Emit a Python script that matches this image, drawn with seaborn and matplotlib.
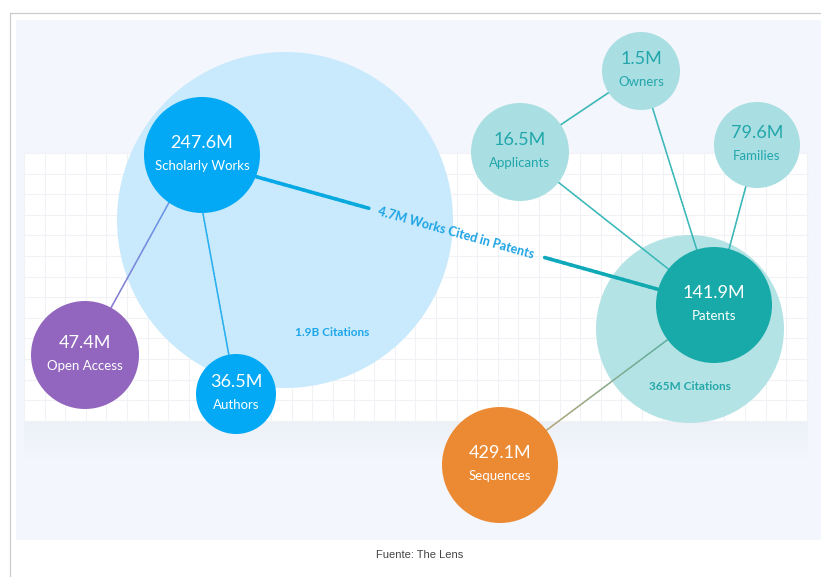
import numpy as np
import pandas as pd
import seaborn as sns
import matplotlib.pyplot as plt
from matplotlib.patches import Rectangle
from matplotlib.collections import LineCollection
from matplotlib.colors import to_rgb

# ---- data ----
node_names = ["Scholarly Works", "Authors", "Open Access", "Patents",
              "Applicants", "Owners", "Families", "Sequences"]
node_values = ["247.6M", "36.5M", "47.4M", "141.9M", "16.5M", "1.5M", "79.6M", "429.1M"]
halo_owner = ["Scholarly Works", "Patents"]
halo_labels = ["1.9B Citations", "365M Citations"]
edges = [("Scholarly Works", "Authors"), ("Scholarly Works", "Open Access"),
         ("Scholarly Works", "Patents"), ("Applicants", "Owners"),
         ("Applicants", "Patents"), ("Owners", "Patents"),
         ("Families", "Patents"), ("Patents", "Sequences")]
link_label = "4.7M Works Cited in Patents"
source_note = "Fuente: The Lens"

# ---- layout (pixel space of the 821x577 canvas) ----
node_x = [202, 236, 85, 714, 520, 641, 757, 500]
node_y = [155, 394, 355, 305, 152, 71, 145, 465]
node_r = [58, 40, 54, 58, 49, 39, 43, 58]
halo_x = [285, 690]
halo_y = [220, 329]
halo_r = [168, 94]
halo_text_xy = [(332, 333), (690, 386)]
# links leave Scholarly Works slightly left of its centre
anchor_shift = {"Scholarly Works": (-9, 4)}

node_colors = {"Scholarly Works": "#03a9f4", "Authors": "#03a9f4", "Open Access": "#9266be",
               "Patents": "#17aaa8", "Applicants": "#a9dfe2", "Owners": "#a9dfe2",
               "Families": "#a9dfe2", "Sequences": "#ec8a34"}
text_colors = {"Applicants": "#22a6ab", "Owners": "#22a6ab", "Families": "#22a6ab"}
halo_colors = {"Scholarly Works": "#c9eafc", "Patents": "#b4e3e5"}
halo_text_colors = ["#1ea6ea", "#25a8aa"]
edge_style = {
    ("Scholarly Works", "Authors"): ("#2aaff0", "#2aaff0", 1.1),
    ("Scholarly Works", "Open Access"): ("#5aa6f0", "#9670c8", 1.1),
    ("Scholarly Works", "Patents"): ("#03a9f4", "#13a9a5", 2.6),
    ("Applicants", "Owners"): ("#3cb8b9", "#3cb8b9", 1.1),
    ("Applicants", "Patents"): ("#3cb8b9", "#3cb8b9", 1.1),
    ("Owners", "Patents"): ("#3cb8b9", "#3cb8b9", 1.1),
    ("Families", "Patents"): ("#3cb8b9", "#3cb8b9", 1.1),
    ("Patents", "Sequences"): ("#3fb5b0", "#d8a36c", 1.1),
}
label_gap = (0.338, 0.672)

W, H = 821, 577
sns.set_style("white")
plt.rcParams['font.family'] = ['Lato', 'DejaVu Sans']

fig = plt.figure(figsize=(W / 100, H / 100), dpi=100)
ax = fig.add_axes([0, 0, 1, 1])

# frame + background panel
ax.plot([10, 10], [13, H], color="#cccccc", lw=0.9, zorder=0)
ax.plot([10, W], [13, 13], color="#cccccc", lw=0.9, zorder=0)
ax.add_patch(Rectangle((16, 20), W - 16, 520, color="#f3f6fc", lw=0, zorder=0.1))

# soft shadow under the grid panel
shade = np.zeros((40, 2, 4))
shade[..., :3] = to_rgb("#8b97b0")
shade[..., 3] = np.linspace(0.06, 0.0, 40)[:, None]
ax.imshow(shade, extent=[24, 808, 461, 421], aspect="auto", zorder=0.2, interpolation="bilinear")

# grid panel
ax.add_patch(Rectangle((24, 153), 784, 268, color="white", lw=0, zorder=0.3))
for gx in np.arange(24, 809, 20.6):
    ax.plot([gx, gx], [153, 421], color="#f0f2f6", lw=0.8, zorder=0.4)
for gy in np.arange(153, 422, 20.6):
    ax.plot([24, 808], [gy, gy], color="#f0f2f6", lw=0.8, zorder=0.4)

nodes = pd.DataFrame({"name": node_names, "value": node_values,
                      "x": node_x, "y": node_y, "r": node_r})
halos = pd.DataFrame({"name": halo_owner, "label": halo_labels,
                      "x": halo_x, "y": halo_y, "r": halo_r})

# citation halos (marker size in points^2 from pixel radius)
sns.scatterplot(data=halos, x="x", y="y", hue="name", palette=halo_colors,
                size="name", sizes={n: (1.44 * r) ** 2 for n, r in zip(halos.name, halos.r)},
                linewidth=0, legend=False, ax=ax, zorder=1)

pos = {n: (x + anchor_shift.get(n, (0, 0))[0], y + anchor_shift.get(n, (0, 0))[1])
       for n, x, y in zip(node_names, node_x, node_y)}


def grad_line(a, b, c0, c1, lw, gap=None, n=80):
    p0, p1 = np.array(a, float), np.array(b, float)
    t = np.linspace(0, 1, n + 1)
    pts = p0 + (p1 - p0) * t[:, None]
    segs = np.stack([pts[:-1], pts[1:]], axis=1)
    tm = (t[:-1] + t[1:]) / 2
    cols = np.array(to_rgb(c0)) * (1 - tm[:, None]) + np.array(to_rgb(c1)) * tm[:, None]
    keep = np.ones(n, bool)
    if gap is not None:
        keep = (tm < gap[0]) | (tm > gap[1])
    ax.add_collection(LineCollection(segs[keep], colors=cols[keep], linewidths=lw,
                                     capstyle="round", zorder=2))


for s, d in edges:
    c0, c1, lw = edge_style[(s, d)]
    gap = label_gap if (s, d) == ("Scholarly Works", "Patents") else None
    grad_line(pos[s], pos[d], c0, c1, lw, gap)

# label riding on the citation link
(sx, sy), (dx, dy) = pos["Scholarly Works"], pos["Patents"]
tmid = sum(label_gap) / 2
ang = -np.degrees(np.arctan2(dy - sy, dx - sx))
ax.text(sx + (dx - sx) * tmid, sy + (dy - sy) * tmid, link_label, rotation=ang,
        rotation_mode="anchor", ha="center", va="center", fontsize=9,
        fontweight="bold", color="#1ba3e4", zorder=3)

# main nodes
sns.scatterplot(data=nodes, x="x", y="y", hue="name", palette=node_colors,
                size="name", sizes={n: (1.44 * r) ** 2 for n, r in zip(nodes.name, nodes.r)},
                linewidth=0, legend=False, ax=ax, zorder=4)

for _, row in nodes.iterrows():
    tc = text_colors.get(row["name"], "white")
    ax.text(row.x, row.y - 12, row.value, ha="center", va="center",
            fontsize=13, color=tc, zorder=5)
    ax.text(row.x, row.y + 11, row["name"], ha="center", va="center",
            fontsize=9.5, color=tc, zorder=5)

for (tx, ty), lab, col in zip(halo_text_xy, halo_labels, halo_text_colors):
    ax.text(tx, ty, lab, ha="center", va="center", fontsize=8.5,
            fontweight="bold", color=col, zorder=3)

ax.text(420, 555, source_note, ha="center", va="center", fontsize=8,
        color="#444444", family=["Liberation Sans", "DejaVu Sans"])

ax.set_xlim(0, W)
ax.set_ylim(H, 0)
ax.axis("off")
fig.savefig("out.png", dpi=100)
